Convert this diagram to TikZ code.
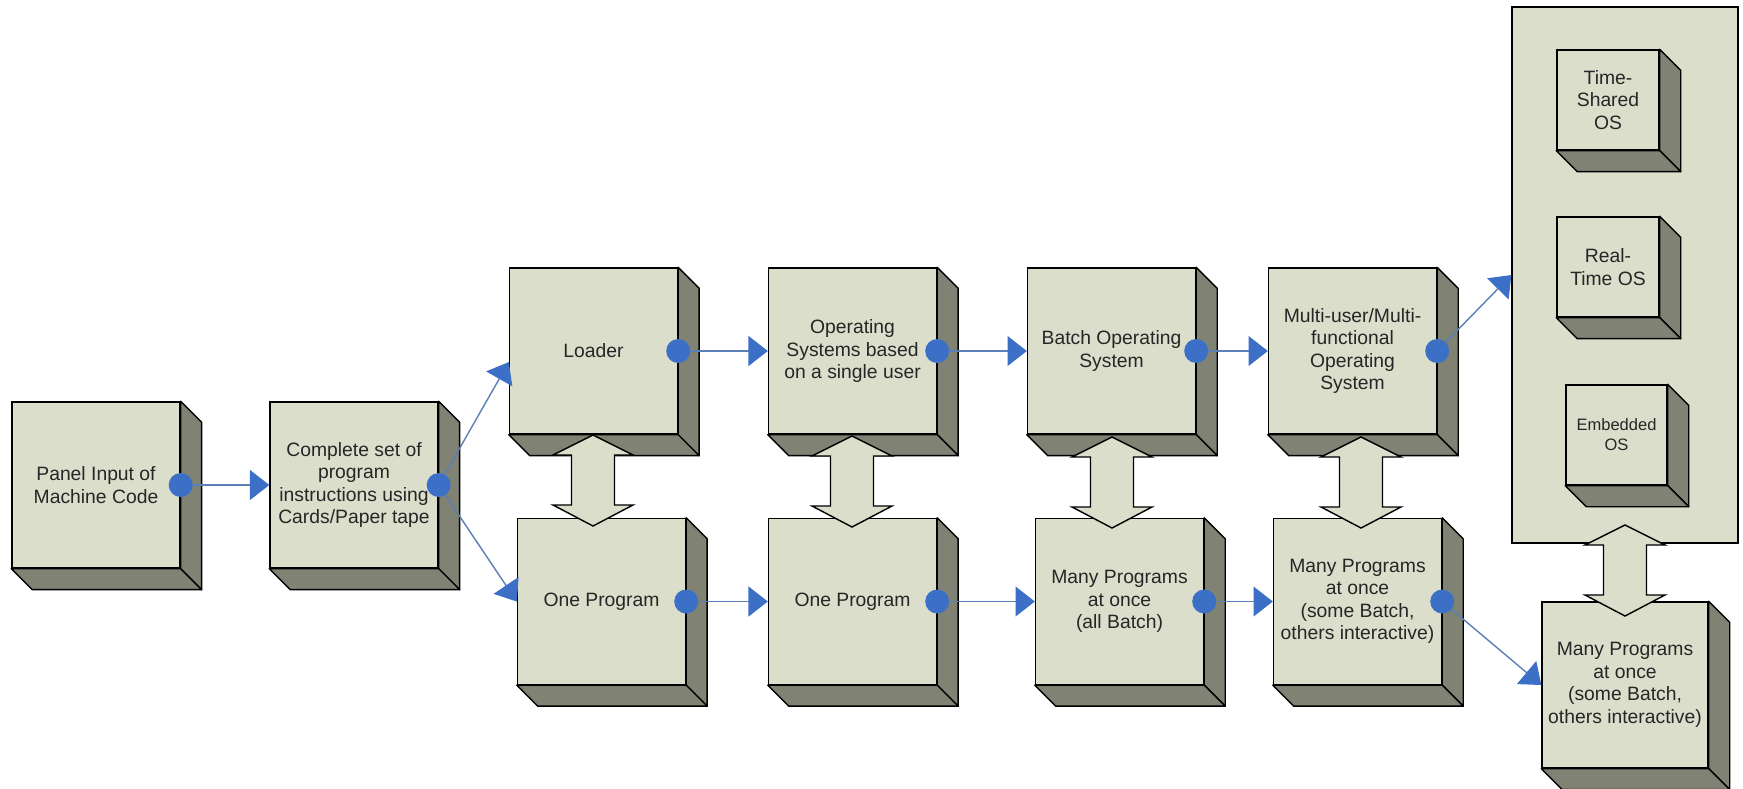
\documentclass[tikz,border=0pt]{standalone}
\usepackage{fontspec}
\setmainfont{Liberation Sans}
\usetikzlibrary{arrows.meta,calc}

\definecolor{facec}{RGB}{220,222,204}
\definecolor{sidec}{RGB}{128,130,116}
\definecolor{linkc}{RGB}{90,128,182}
\definecolor{dotc}{RGB}{60,112,198}
\definecolor{inkc}{RGB}{38,38,38}

\tikzset{
  face/.style={draw=black, fill=facec, line width=0.8pt, inner sep=0pt,
    align=center, text=inkc, font=\fontsize{11}{12.8}\selectfont,
    minimum width=3.36cm, minimum height=3.32cm},
  smallface/.style={face, minimum width=2.04cm, minimum height=2cm},
  holder/.style={draw=black, fill=facec, line width=0.8pt,
    minimum width=4.52cm, minimum height=10.72cm},
  depthface/.style={draw=black, fill=sidec, line width=0.8pt, line join=round},
  link/.style={draw=linkc, line width=0.8pt,
    -{Triangle[length=11pt, width=17pt, color=dotc]}},
  hub/.style={fill=dotc},
  twoway/.style={draw=black, fill=facec, line width=0.8pt},
}

% side and bottom faces of a box node
\newcommand\extrude[1]{%
  \filldraw[depthface] (#1.north east) -- ++(21,21) -- ($(#1.south east)+(21,21)$) -- (#1.south east) -- cycle;
  \filldraw[depthface] (#1.south west) -- (#1.south east) -- ++(21,21) -- ($(#1.south west)+(21,21)$) -- cycle;}

% vertical two-headed block arrow, starting from its upper tip
\newcommand\updown[1]{%
  \filldraw[twoway] (#1) -- ++(40,20) -- ++(-18.5,0) -- ++(0,50) -- ++(18.5,0) -- ++(-40,21)
    -- ++(-40,-21) -- ++(18.5,0) -- ++(0,-50) -- ++(-18.5,0) -- cycle;}

\newcommand\hubdot[1]{\fill[hub] (#1) circle[radius=0.24cm];}

\begin{document}
\begin{tikzpicture}[x=0.02cm, y=-0.02cm]
\useasboundingbox (0,0) rectangle (1743,788);
\fill[white] (0,0) rectangle (1743,788);

% first stages
\node[face] (p0) at (96,485) {Panel Input of\\Machine Code};
\node[face] (p1) at (354,485) {Complete set of\\program\\instructions using\\Cards/Paper tape};

% upper row: system software
\node[face] (t2) at (593.5,351) {Loader};
\node[face] (t3) at (852.5,351) {Operating\\Systems based\\on a single user};
\node[face] (t4) at (1111.5,351) {Batch Operating\\System};
\node[face] (t5) at (1352.5,351) {Multi-user/Multi-\\functional\\Operating\\System};

% lower row: programs
\node[face] (b2) at (601.5,601.5) {One Program};
\node[face] (b3) at (852.5,601.5) {One Program};
\node[face] (b4) at (1119.5,601.5) {Many Programs\\at once\\(all Batch)};
\node[face] (b5) at (1357.5,601.5) {Many Programs\\at once\\(some Batch,\\others interactive)};
\node[face, minimum width=3.32cm] (b6) at (1625,685) {Many Programs\\at once\\(some Batch,\\others interactive)};

% group of modern operating systems
\node[holder] (cont) at (1625,275) {};
\node[smallface] (ts) at (1608,100) {Time-\\Shared\\OS};
\node[smallface] (rt) at (1608,267) {Real-\\Time OS};
\node[smallface, minimum width=2.02cm, font=\fontsize{9.4}{11.4}\selectfont] (eo) at (1616.5,435) {Embedded\\OS};

\foreach \n in {p0,p1,t2,t3,t4,t5,b2,b3,b4,b5,b6,ts,rt,eo} {\extrude{\n}}

% links between the rows
\coordinate (d2) at (593,435);
\coordinate (d3) at (852,436);
\coordinate (d4) at (1112,437);
\coordinate (d5) at (1361,437);
\coordinate (d6) at (1625,525);
\foreach \d in {d2,d3,d4,d5,d6} {\updown{\d}}

% flow connectors
\draw[link] (p0.east) -- (p1.west);
\draw[link] (p1.east) -- ([yshift=-6.3pt]t2.west);
\draw[link] (p1.east) -- (b2.west);
\draw[link] (t2.east) -- (t3.west);
\draw[link] (t3.east) -- (t4.west);
\draw[link] (t4.east) -- (t5.west);
\draw[link] (t5.east) -- (cont.west);
\draw[link] (b2.east) -- (b3.west);
\draw[link] (b3.east) -- (b4.west);
\draw[link] (b4.east) -- (b5.west);
\draw[link] (b5.east) -- (b6.west);

\foreach \n in {p0,p1,t2,t3,t4,t5,b2,b3,b4,b5} {\hubdot{\n.east}}
\end{tikzpicture}
\end{document}
